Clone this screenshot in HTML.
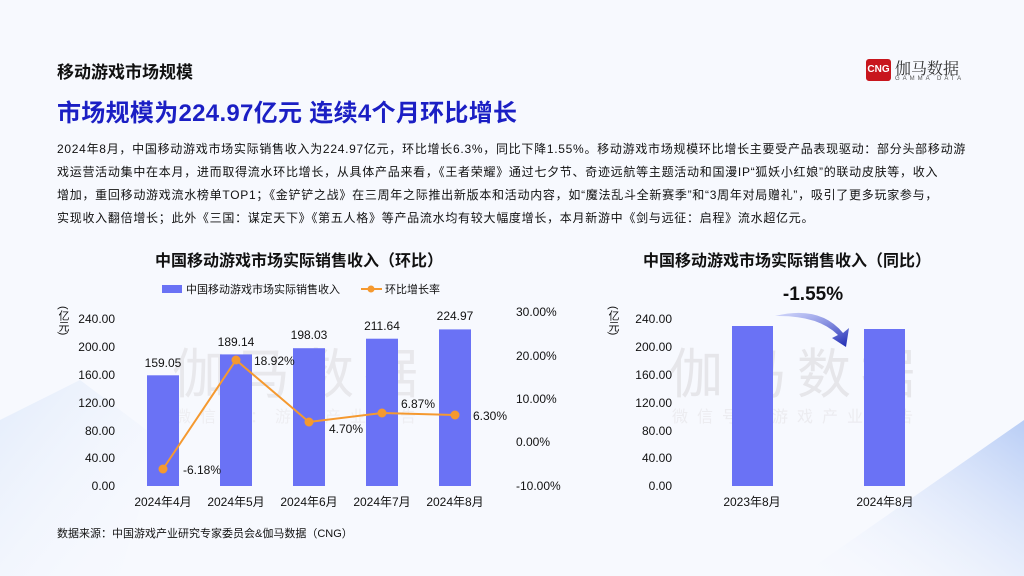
<!DOCTYPE html>
<html><head><meta charset="utf-8">
<style>
body{margin:0;width:1024px;height:576px;overflow:hidden;background:#f7f9fe;font-family:"Liberation Sans","Noto Sans CJK SC",sans-serif;position:relative;color:#111}
.abs{position:absolute;white-space:nowrap}
.p{font-size:12px;left:57px;color:#111;letter-spacing:0.72px}
.vt{writing-mode:vertical-rl;font-size:11px;line-height:12px}
</style></head><body>
<svg class="abs" style="left:0;top:0" width="1024" height="576">
<defs>
<linearGradient id="bg1" x1="0" y1="0" x2="1" y2="1"><stop offset="0" stop-color="#e3ecfb"/><stop offset="1" stop-color="#f7f9fe" stop-opacity="0"/></linearGradient>
<linearGradient id="bg2" x1="0" y1="1" x2="1" y2="0"><stop offset="0" stop-color="#f7f9fe" stop-opacity="0"/><stop offset="1" stop-color="#8fb0f0"/></linearGradient>
<linearGradient id="arr" x1="0" y1="0" x2="1" y2="1"><stop offset="0" stop-color="#7d8af0" stop-opacity="0.3"/><stop offset="1" stop-color="#1a26b0"/></linearGradient>
</defs>
<polygon points="0,420 80,380 160,440 120,576 0,576" fill="url(#bg1)"/>
<polygon points="800,576 1024,420 1024,576" fill="url(#bg2)" opacity="0.6"/>
<text x="300" y="393" font-size="54" fill="#e8e8ec" text-anchor="middle" font-family="Noto Sans CJK SC" letter-spacing="10">伽马数据</text>
<text x="300" y="422" font-size="16" fill="#eeeef2" text-anchor="middle" font-family="Noto Sans CJK SC" letter-spacing="9">微信号：游戏产业报告</text>
<text x="797" y="393" font-size="54" fill="#e6e6ea" text-anchor="middle" font-family="Noto Sans CJK SC" letter-spacing="10">伽马数据</text>
<text x="797" y="422" font-size="16" fill="#ececf0" text-anchor="middle" font-family="Noto Sans CJK SC" letter-spacing="9">微信号：游戏产业报告</text>
<g font-size="12" fill="#111">
<text x="115" y="323" text-anchor="end">240.00</text>
<text x="115" y="351" text-anchor="end">200.00</text>
<text x="115" y="379" text-anchor="end">160.00</text>
<text x="115" y="407" text-anchor="end">120.00</text>
<text x="115" y="435" text-anchor="end">80.00</text>
<text x="115" y="462" text-anchor="end">40.00</text>
<text x="115" y="490" text-anchor="end">0.00</text>
<text x="516" y="316">30.00%</text>
<text x="516" y="360">20.00%</text>
<text x="516" y="403">10.00%</text>
<text x="516" y="446">0.00%</text>
<text x="516" y="490">-10.00%</text>
</g>
<g fill="#6a72f5">
<rect x="147" y="375.3" width="32" height="110.7"/>
<rect x="220" y="354.4" width="32" height="131.6"/>
<rect x="293" y="348.2" width="32" height="137.8"/>
<rect x="366" y="338.7" width="32" height="147.3"/>
<rect x="439" y="329.4" width="32" height="156.6"/>
</g>
<g font-size="12" fill="#111" text-anchor="middle">
<text x="163" y="367">159.05</text><text x="236" y="346">189.14</text><text x="309" y="339">198.03</text><text x="382" y="330">211.64</text><text x="455" y="320">224.97</text>
<text x="163" y="506">2024年4月</text><text x="236" y="506">2024年5月</text><text x="309" y="506">2024年6月</text><text x="382" y="506">2024年7月</text><text x="455" y="506">2024年8月</text>
</g>
<polyline points="163,469 236,360 309,422 382,413 455,415" fill="none" stroke="#f5992f" stroke-width="2"/>
<g fill="#f5992f"><circle cx="163" cy="469" r="4.5"/><circle cx="236" cy="360" r="4.5"/><circle cx="309" cy="422" r="4.5"/><circle cx="382" cy="413" r="4.5"/><circle cx="455" cy="415" r="4.5"/></g>
<g font-size="12" fill="#111">
<text x="183" y="474">-6.18%</text><text x="254" y="365">18.92%</text><text x="329" y="433">4.70%</text><text x="401" y="408">6.87%</text><text x="473" y="420">6.30%</text>
</g>
<rect x="162" y="285" width="20" height="8" fill="#6a72f5"/>
<text x="186" y="293" font-size="11" fill="#111">中国移动游戏市场实际销售收入</text>
<line x1="361" y1="289" x2="382" y2="289" stroke="#f5992f" stroke-width="2"/><circle cx="371" cy="289" r="3.5" fill="#f5992f"/>
<text x="385" y="293" font-size="11" fill="#111">环比增长率</text>
<g font-size="12" fill="#111" text-anchor="end">
<text x="672" y="323">240.00</text><text x="672" y="351">200.00</text><text x="672" y="379">160.00</text><text x="672" y="407">120.00</text><text x="672" y="435">80.00</text><text x="672" y="462">40.00</text><text x="672" y="490">0.00</text>
</g>
<rect x="732" y="326" width="41" height="160" fill="#6a72f5"/>
<rect x="864" y="329" width="41" height="157" fill="#6a72f5"/>
<g font-size="12" fill="#111" text-anchor="middle"><text x="752" y="506">2023年8月</text><text x="885" y="506">2024年8月</text></g>
<text x="813" y="300" font-size="19" font-weight="bold" fill="#111" text-anchor="middle">-1.55%</text>
<path d="M775,316 Q820,305 843,333 L849,328 L846,347 L832,338 L838,335 Q818,315 775,316 Z" fill="url(#arr)"/>
</svg>
<div class="abs vt" style="left:57px;top:306px">(亿元)</div>
<div class="abs vt" style="left:607px;top:306px">(亿元)</div>
<div class="abs" style="left:57px;top:58px;font-size:17px;font-weight:bold">移动游戏市场规模</div>
<div class="abs" style="left:57px;top:93px;font-size:24px;font-weight:bold;color:#1b1fc4;letter-spacing:0.3px">市场规模为224.97亿元 连续4个月环比增长</div>
<div class="abs p" style="top:140px">2024年8月，中国移动游戏市场实际销售收入为224.97亿元，环比增长6.3%，同比下降1.55%。移动游戏市场规模环比增长主要受产品表现驱动：部分头部移动游</div>
<div class="abs p" style="top:163px">戏运营活动集中在本月，进而取得流水环比增长，从具体产品来看，《王者荣耀》通过七夕节、奇迹远航等主题活动和国漫IP“狐妖小红娘”的联动皮肤等，收入</div>
<div class="abs p" style="top:186px">增加，重回移动游戏流水榜单TOP1；《金铲铲之战》在三周年之际推出新版本和活动内容，如“魔法乱斗全新赛季”和“3周年对局赠礼”，吸引了更多玩家参与，</div>
<div class="abs p" style="top:209px">实现收入翻倍增长；此外《三国：谋定天下》《第五人格》等产品流水均有较大幅度增长，本月新游中《剑与远征：启程》流水超亿元。</div>
<div class="abs" style="left:155px;top:247px;font-size:16px;font-weight:bold">中国移动游戏市场实际销售收入（环比）</div>
<div class="abs" style="left:643px;top:247px;font-size:16px;font-weight:bold">中国移动游戏市场实际销售收入（同比）</div>
<div class="abs" style="left:57px;top:525px;font-size:11px">数据来源：中国游戏产业研究专家委员会&amp;伽马数据（CNG）</div>
<div class="abs" style="left:866px;top:59px;width:25px;height:22px;background:#c8161d;border-radius:3px;color:#fff;font-size:10px;font-weight:bold;line-height:22px;text-align:center">CNG</div>
<div class="abs" style="left:895px;top:56px;font-size:16px;color:#333;font-family:'Noto Serif CJK SC',serif">伽马数据</div>
<div class="abs" style="left:895px;top:76px;font-size:6px;color:#555;letter-spacing:3px">GAMMA DATA</div>
</body></html>
